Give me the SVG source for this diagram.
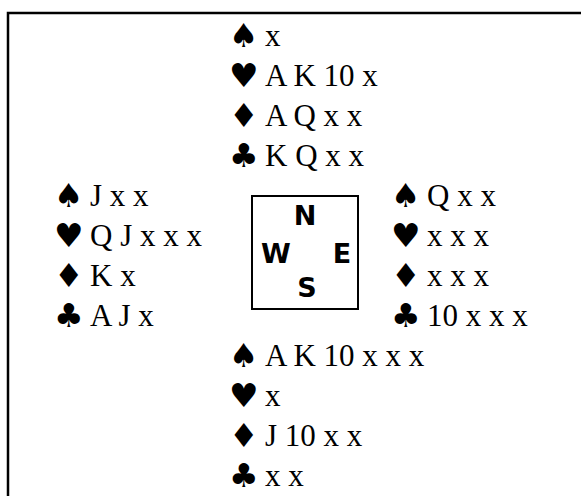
<svg xmlns="http://www.w3.org/2000/svg" width="581" height="496" viewBox="0 0 581 496">
<style>
.t{font-family:"Liberation Serif","Times New Roman",serif;font-size:31px;fill:#000}
.s{font-family:"DejaVu Sans",sans-serif;font-size:33px;fill:#000}
.c{font-family:"DejaVu Sans",Verdana,sans-serif;font-size:27px;font-weight:bold;fill:#000;text-anchor:middle}
.frame{fill:none;stroke:#000;stroke-width:2.5}
.box{fill:#fff;stroke:#000;stroke-width:2}
</style>
<rect width="581" height="496" fill="#fff"/>
<path class="frame" d="M8,500 V13 H590"/>
<g id="north">
<text class="s" x="229" y="47">♠</text><text class="t" x="265" y="46">x</text>
<text class="s" x="229" y="87">♥</text><text class="t" x="265" y="86">A K 10 x</text>
<text class="s" x="229" y="127">♦</text><text class="t" x="265" y="126">A Q x x</text>
<text class="s" x="229" y="167">♣</text><text class="t" x="265" y="166">K Q x x</text>
</g>
<g id="west">
<text class="s" x="54" y="207">♠</text><text class="t" x="90" y="206">J x x</text>
<text class="s" x="54" y="247">♥</text><text class="t" x="90" y="246">Q J x x x</text>
<text class="s" x="54" y="287">♦</text><text class="t" x="90" y="286">K x</text>
<text class="s" x="54" y="327">♣</text><text class="t" x="90" y="326">A J x</text>
</g>
<g id="east">
<text class="s" x="391" y="207">♠</text><text class="t" x="427" y="206">Q x x</text>
<text class="s" x="391" y="247">♥</text><text class="t" x="427" y="246">x x x</text>
<text class="s" x="391" y="287">♦</text><text class="t" x="427" y="286">x x x</text>
<text class="s" x="391" y="327">♣</text><text class="t" x="427" y="326">10 x x x</text>
</g>
<g id="compass">
<rect class="box" x="252" y="196" width="106" height="113"/>
<text class="c" x="305" y="225">N</text>
<text class="c" x="276" y="263">W</text>
<text class="c" x="342" y="263">E</text>
<text class="c" x="307" y="297">S</text>
</g>
<g id="south">
<text class="s" x="229" y="367">♠</text><text class="t" x="265" y="366">A K 10 x x x</text>
<text class="s" x="229" y="407">♥</text><text class="t" x="265" y="406">x</text>
<text class="s" x="229" y="447">♦</text><text class="t" x="265" y="446">J 10 x x</text>
<text class="s" x="229" y="487">♣</text><text class="t" x="265" y="486">x x</text>
</g>
<g id="connectors"/>
</svg>
